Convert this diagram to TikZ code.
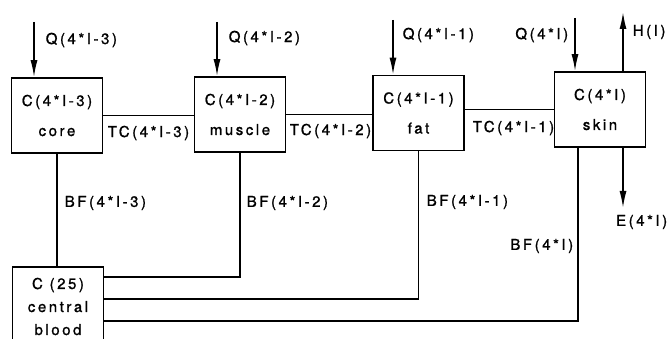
\documentclass[tikz,border=0pt]{standalone}
\usepackage{fontspec}
\setmainfont{TeX Gyre Heros}[LetterSpace=17, FakeBold=1.2]
\usetikzlibrary{arrows.meta}

\tikzset{
  comp/.style={draw, line width=1.6pt, minimum width=91pt, minimum height=75pt,
    align=center, inner sep=0pt},
  flow/.style={-{Latex[length=17pt,width=7pt]}},
  lbl/.style={inner sep=0pt},
}

\begin{document}
\begin{tikzpicture}[x=1pt, y=-1pt, line width=1.6pt,
  font=\fontsize{15}{18}\selectfont]

\useasboundingbox (0,0) rectangle (670,339);

%% compartments
\node[comp] (core)   at (57,115.5)  {C(4*I-3)\\[12pt]core};
\node[comp] (muscle) at (240,114.5) {C(4*I-2)\\[12pt]muscle};
\node[comp] (fat)    at (418.5,113) {C(4*I-1)\\[12pt]fat};
\node[comp] (skin)   at (600,109.5) {C(4*I)\\[12pt]skin};
\node[comp, minimum height=79pt] (blood) at (58,306.5)
  {C (25)\\[5pt]central\\[5pt]blood};

%% heat input
\coordinate (q1) at (34,22);
\coordinate (q2) at (217,22);
\coordinate (q3) at (393,20);
\coordinate (q4) at (575,18);
\draw[flow] (q1) -- (q1 |- core.north);
\draw[flow] (q2) -- (q2 |- muscle.north);
\draw[flow] (q3) -- (q3 |- fat.north);
\draw[flow] (q4) -- (q4 |- skin.north);
\node[lbl, anchor=west] (lq1) at (45,40) {Q(4*I-3)};
\node[lbl, anchor=west] (lq2) at (228,38) {Q(4*I-2)};
\node[lbl, anchor=west] (lq3) at (402,35) {Q(4*I-1)};
\node[lbl, anchor=east] (lq4) at (569,35) {Q(4*I)};

%% heat loss of skin
\coordinate (h) at (623,12);
\draw[flow] (h |- skin.north) -- (h);
\node[lbl, anchor=west] (lh) at (632,32) {H(I)};
\coordinate (e) at (623,208);
\draw[flow] (e |- skin.south) -- (e);
\node[lbl, anchor=east] (le) at (668,222) {E(4*I)};

%% conduction
\draw (core.east) -- (core.east -| muscle.west);
\draw (muscle.east) -- (muscle.east -| fat.west);
\draw (skin.west) -- (skin.west -| fat.east);
\node[lbl, anchor=west] (ltc1) at (107,133) {TC(4*I-3)};
\node[lbl, anchor=west] (ltc2) at (289,131) {TC(4*I-2)};
\node[lbl, anchor=west] (ltc3) at (472,128) {TC(4*I-1)};

%% blood flow
\coordinate (b2) at ([yshift=-11pt]blood.north east);
\coordinate (b3) at ([yshift=-33pt]blood.north east);
\coordinate (b4) at ([yshift=-55pt]blood.north east);
\draw (core.south) -- (core.south |- blood.north);
\draw (muscle.south) |- (b2);
\draw (fat.south) |- (b3);
\draw ([xshift=-22pt]skin.south) |- (b4);
\node[lbl, anchor=west] (lbf1) at (64,203) {BF(4*I-3)};
\node[lbl, anchor=west] (lbf2) at (246,203) {BF(4*I-2)};
\node[lbl, anchor=west] (lbf3) at (426,202) {BF(4*I-1)};
\node[lbl, anchor=east] (lbf4) at (574,246) {BF(4*I)};

\end{tikzpicture}
\end{document}
